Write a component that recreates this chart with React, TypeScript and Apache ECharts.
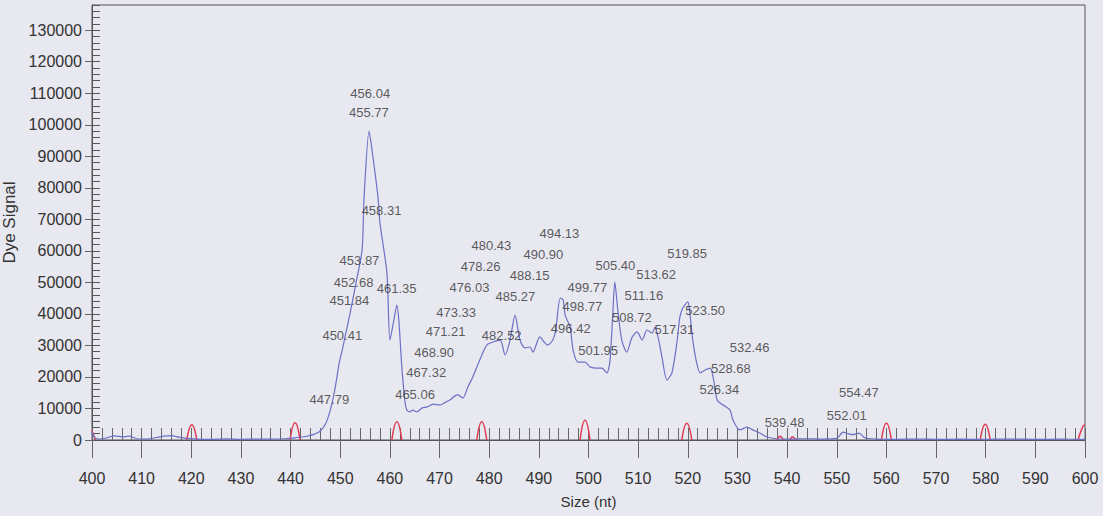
import React, { useEffect, useRef } from "react";
import * as echarts from "echarts";

// Blue dye trace: [size (nt), signal]
const sampleTrace: [number, number][] = [
  [400, 2600], [400.6, 600], [401.5, 300], [403, 700], [404.5, 1300], [406, 1000], [407.5, 1200],
  [409, 400], [411, 300], [413, 800], [414.5, 1200], [416, 1400], [417.5, 900], [419, 500],
  [421, 300], [424, 200], [427, 350], [430, 200], [433, 300], [436, 250], [439, 400], [441, 700],
  [443, 1100], [444.5, 1700], [445.8, 2600], [447, 5000], [447.9, 8900], [448.9, 15900],
  [449.8, 24500], [450.4, 28500], [451.0, 33000], [451.6, 37400], [452.0, 40300], [453.2, 50000],
  [454.4, 60300], [454.8, 77000], [455.8, 98000], [456.4, 92000], [457.6, 77000], [458.0, 68800],
  [459.4, 53000], [460.0, 31700], [460.8, 38000], [461.4, 42800], [461.8, 38000], [462.4, 23200],
  [463.0, 12700], [463.4, 9500], [464.0, 8900], [464.6, 9500], [465.4, 8900], [466.5, 10200],
  [467.5, 10500], [468.7, 11400], [470.1, 11100], [471.3, 12100], [472.1, 12700], [473.1, 14000],
  [473.7, 14300], [474.7, 13300], [475.7, 16800], [476.7, 20000], [478.1, 25400], [479.5, 30100],
  [480.8, 31100], [482.2, 31700], [483.2, 27000], [484.2, 31700], [485.2, 39600], [486.2, 31700],
  [487.2, 29200], [488.2, 29500], [488.8, 27900], [490.2, 32700], [491.2, 30800], [491.8, 30100],
  [492.8, 31700], [493.4, 34900], [494.3, 45000], [494.9, 44400], [495.3, 39600], [496.3, 35800],
  [496.9, 28500], [497.9, 24700], [499.3, 24700], [500.3, 23200], [501.7, 22800], [502.7, 22800],
  [503.7, 21300], [504.3, 24700], [504.9, 40300], [505.3, 50100], [505.9, 41200], [506.7, 31700],
  [507.7, 27900], [508.8, 32700], [509.8, 34300], [510.8, 31700], [511.8, 34900], [512.8, 33900],
  [513.4, 35800], [514.0, 32700], [514.8, 26300], [515.8, 19000], [516.8, 21300], [517.8, 30800],
  [518.4, 39000], [519.0, 41900], [520.0, 43800], [520.4, 40300], [521.0, 31700], [521.8, 24400],
  [522.5, 21300], [523.5, 22200], [524.5, 22800], [525.1, 20000], [525.9, 12700], [527.1, 11100],
  [528.5, 9500], [529.1, 6300], [530.5, 3200], [531.9, 4100], [533.1, 3200], [534.5, 2200],
  [535.9, 950], [538, 400], [541, 300], [544, 400], [547, 300], [550, 500], [551.3, 2500],
  [552.3, 2000], [553.2, 1700], [554.5, 2200], [555.6, 700], [558, 300], [562, 200], [566, 300],
  [570, 200], [575, 250], [580, 200], [585, 300], [590, 200], [595, 250], [600, 200],
];

// Red size-standard trace; "-" breaks the line between peaks
const standardTrace: [number, number | string][] = [
  [400, 3000], [400.7, 0], [401, "-"],
  [419.1, 0], [420.1, 4800], [421.1, 0], [422, "-"],
  [439.9, 0], [440.9, 5500], [441.9, 0], [443, "-"],
  [460.4, 0], [461.4, 5800], [462.4, 0], [463, "-"],
  [477.5, 0], [478.5, 5800], [479.5, 0], [480, "-"],
  [498.3, 0], [499.3, 6300], [500.3, 0], [501, "-"],
  [518.8, 0], [519.8, 5300], [520.8, 0], [521.5, "-"],
  [538.0, 0], [538.6, 1200], [539.2, 0], [539.6, "-"],
  [540.6, 0], [541.1, 1000], [541.7, 0], [542, "-"],
  [559.0, 0], [560.0, 5300], [561.0, 0], [562, "-"],
  [578.9, 0], [579.9, 5000], [580.9, 0], [582, "-"],
  [598.6, 0], [599.6, 4400], [600, 4800],
];

// Called peak sizes and the signal level at which each size label sits
const peakSizes = [
  447.79, 450.41, 451.84, 452.68, 453.87, 455.77, 456.04, 458.31, 461.35, 465.06, 467.32, 468.9,
  471.21, 473.33, 476.03, 478.26, 480.43, 482.52, 485.27, 488.15, 490.9, 494.13, 496.42, 498.77,
  499.77, 501.95, 505.4, 508.72, 511.16, 513.62, 517.31, 519.85, 523.5, 526.34, 528.68, 532.46,
  539.48, 552.01, 554.47,
];
const peakLabelLevels = [
  12700, 33000, 44400, 50100, 56800, 104000, 110000, 72900, 48200, 14300, 21300, 27900,
  34300, 40600, 48500, 54900, 61800, 33300, 45400, 52300, 58700, 65600, 35500, 42200,
  48500, 28500, 55500, 39000, 45700, 52600, 34900, 59300, 41200, 15900, 22800, 29500,
  5700, 7900, 15200,
];

const xTicks = { min: 400, max: 600, step: 10, minorStep: 2 };
const yTicks = { min: 0, max: 138000, step: 10000, minorStep: 2000 };

const FONT = "'Liberation Sans', Arial, sans-serif";
const INK = "#333";
const AXIS = "#555";

export default function App() {
  const ref = useRef<HTMLDivElement>(null);

  useEffect(() => {
    if (!ref.current) return;
    const chart = echarts.init(ref.current, null, { renderer: "svg" });
    const labelPoints = peakSizes.map((s, i) => [s, peakLabelLevels[i]]);

    chart.setOption({
      animation: false,
      backgroundColor: "transparent",
      grid: {
        left: 92,
        right: 18,
        top: 5,
        bottom: 76,
        outerBoundsMode: "none",
        containLabel: false,
        show: true,
        borderColor: AXIS,
        borderWidth: 1,
        backgroundColor: "transparent",
      },
      xAxis: [
        {
          type: "value",
          min: xTicks.min,
          max: xTicks.max,
          interval: xTicks.step,
          name: "Size (nt)",
          nameLocation: "middle",
          nameGap: 54,
          nameTextStyle: { fontFamily: FONT, fontSize: 15, color: INK },
          axisLine: { show: true, onZero: false, lineStyle: { color: AXIS, width: 1 } },
          axisTick: { show: true, inside: false, length: 18, lineStyle: { color: "#666" } },
          axisLabel: { margin: 30, fontFamily: FONT, fontSize: 16, color: INK },
          splitLine: { show: false },
        },
        {
          type: "value",
          min: xTicks.min,
          max: xTicks.max,
          interval: xTicks.minorStep,
          position: "bottom",
          axisLine: { show: false, onZero: false },
          axisTick: { show: true, inside: true, length: 12, lineStyle: { color: "#666" } },
          axisLabel: { show: false },
          splitLine: { show: false },
        },
      ],
      yAxis: [
        {
          type: "value",
          min: yTicks.min,
          max: yTicks.max,
          interval: yTicks.step,
          name: "Dye Signal",
          nameLocation: "middle",
          nameGap: 66,
          nameTextStyle: { fontFamily: FONT, fontSize: 17, color: INK },
          axisLine: { show: true, onZero: false, lineStyle: { color: AXIS, width: 1 } },
          axisTick: { show: true, inside: false, length: 7, lineStyle: { color: "#666" } },
          axisLabel: {
            margin: 10,
            fontFamily: FONT,
            fontSize: 16,
            color: INK,
            showMaxLabel: false,
            formatter: (v: number) => String(v),
          },
          splitLine: { show: false },
        },
        {
          type: "value",
          min: yTicks.min,
          max: yTicks.max,
          interval: yTicks.minorStep,
          position: "left",
          axisLine: { show: false, onZero: false },
          axisTick: { show: true, inside: true, length: 8, lineStyle: { color: "#555" } },
          axisLabel: { show: false },
          splitLine: { show: false },
        },
      ],
      series: [
        {
          type: "line",
          name: "standard",
          data: standardTrace,
          xAxisIndex: 0,
          yAxisIndex: 0,
          showSymbol: false,
          smooth: 0.5,
          connectNulls: false,
          lineStyle: { color: "#e23a52", width: 1.5 },
          z: 3,
        },
        {
          type: "line",
          name: "sample",
          data: sampleTrace,
          xAxisIndex: 0,
          yAxisIndex: 0,
          showSymbol: false,
          smooth: 0.25,
          lineStyle: { color: "#6c70c6", width: 1.2 },
          z: 4,
        },
        {
          type: "scatter",
          name: "peaks",
          data: labelPoints,
          xAxisIndex: 0,
          yAxisIndex: 0,
          symbolSize: 1,
          itemStyle: { color: "rgba(0,0,0,0)" },
          label: {
            show: true,
            position: "inside",
            formatter: (p: any) => Number(p.value[0]).toFixed(2),
            fontFamily: FONT,
            fontSize: 13,
            color: INK,
          },
          z: 5,
        },
      ],
    });

    return () => chart.dispose();
  }, []);

  return (
    <div
      style={{ position: "fixed", left: 0, top: 0, width: 1103, height: 516, background: "#e8e8f0" }}
    >
      <div ref={ref} style={{ width: 1103, height: 516 }} />
    </div>
  );
}
